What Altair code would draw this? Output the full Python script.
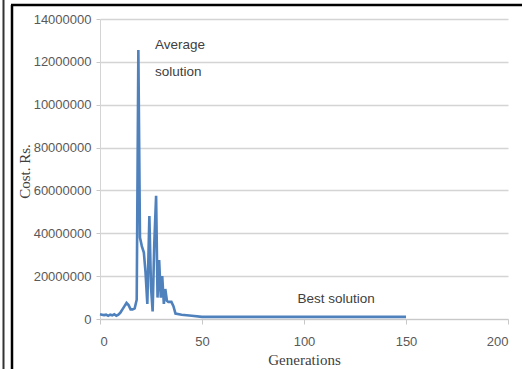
import altair as alt
import pandas as pd

# Data (generation, cost in Rs.)
generations = [0, 1, 2, 3, 4, 5, 6, 7, 8, 9, 10, 11, 12, 13, 14, 15, 16, 17, 18,
               18.8, 19.6, 20.5, 21.5, 22.3, 23.2, 24.2, 25.0, 25.8, 26.6, 27.5,
               28.2, 29.0, 29.8, 30.5, 31.3, 32.0, 32.8, 33.5, 35, 36, 37, 40, 45,
               50, 60, 80, 100, 120, 150]
cost = [220000, 200000, 180000, 200000, 150000, 200000, 170000, 220000, 150000,
        200000, 300000, 450000, 600000, 750000, 650000, 450000, 450000, 500000,
        900000, 12550000, 3800000, 3400000, 3100000, 2200000, 700000, 4800000,
        1500000, 350000, 3500000, 5750000, 1000000, 2750000, 1000000, 2000000,
        700000, 1400000, 850000, 800000, 800000, 600000, 250000, 200000, 150000,
        100000, 100000, 100000, 100000, 100000, 100000]

y_tick_values = [0, 2000000, 4000000, 6000000, 8000000, 10000000, 12000000, 14000000]
y_tick_labels = ["0", "20000000", "40000000", "60000000", "80000000",
                 "10000000", "12000000", "14000000"]
x_tick_values = [0, 50, 100, 150, 200]

avg_text = ["Average", "solution"]
avg_x = [27, 27]
avg_y = [12790000, 11530000]
best_text = ["Best solution"]
best_x = [115.7]
best_y = [930000]

df = pd.DataFrame({"gen": generations, "cost": cost})
avg = pd.DataFrame({"t": avg_text, "gx": avg_x, "gy": avg_y})
best = pd.DataFrame({"t": best_text, "gx": best_x, "gy": best_y})

label_expr = " : ".join(
    f"datum.value == {v} ? '{l}'" for v, l in zip(y_tick_values, y_tick_labels)
) + " : ''"

xscale = alt.Scale(domain=[0, 200], nice=False)
yscale = alt.Scale(domain=[0, 14000000], nice=False)

line = alt.Chart(df).mark_line(color="#4f81bd", strokeWidth=2.6).encode(
    x=alt.X("gen:Q", scale=xscale,
            axis=alt.Axis(values=x_tick_values, title="Generations", grid=False,
                          labelFont="Liberation Sans", labelFontSize=13,
                          labelColor="#595959", labelPadding=11, tickSize=5,
                          tickColor="#c8c8c8", domainColor="#c8c8c8",
                          titleFont="Liberation Serif", titleFontSize=15,
                          titleFontWeight="normal", titleColor="#404040",
                          titleBaseline="alphabetic", titleY=45)),
    y=alt.Y("cost:Q", scale=yscale,
            axis=alt.Axis(values=y_tick_values, labelExpr=label_expr,
                          title="Cost. Rs.", grid=True, gridColor="#d4d4d4",
                          gridWidth=1.3, labelFont="Liberation Sans",
                          labelFontSize=13, labelColor="#595959", labelPadding=5,
                          tickSize=4, tickColor="#c8c8c8", domainColor="#d4d4d4",
                          titleFont="Liberation Serif", titleFontSize=15,
                          titleFontWeight="normal", titleColor="#404040",
                          titleX=-76, titleY=152, titleAngle=-90,
                          titleAlign="center", titleBaseline="middle")),
)

avg_labels = alt.Chart(avg).mark_text(font="Liberation Sans", fontSize=13.5,
                                      color="#404040", baseline="middle",
                                      align="left").encode(
    x=alt.X("gx:Q", scale=xscale),
    y=alt.Y("gy:Q", scale=yscale),
    text="t:N",
)
best_labels = alt.Chart(best).mark_text(font="Liberation Sans", fontSize=13.5,
                                        color="#404040", baseline="middle",
                                        align="center").encode(
    x=alt.X("gx:Q", scale=xscale),
    y=alt.Y("gy:Q", scale=yscale),
    text="t:N",
)

one = pd.DataFrame({"a": [0]})
inner_left = alt.Chart(one).mark_rule(color="black", strokeWidth=2.5).encode(
    x=alt.value(-88), y=alt.value(-14), y2=alt.value(350))
top_line = alt.Chart(one).mark_rule(color="black", strokeWidth=2.5).encode(
    x=alt.value(-89), x2=alt.value(422), y=alt.value(-14))
outer_left = alt.Chart(one).mark_rule(color="#333333", strokeWidth=2).encode(
    x=alt.value(-96.5), y=alt.value(-19), y2=alt.value(350))

chart = alt.layer(line, avg_labels, best_labels, inner_left, top_line,
                  outer_left).properties(
    width=408, height=300,
    autosize=alt.AutoSizeParams(type="none"),
    padding={"left": 100, "top": 19, "right": 14, "bottom": 50},
    background="white",
).configure_view(stroke=None)

chart.save("out.html", embed_options={"renderer": "svg", "actions": False})
